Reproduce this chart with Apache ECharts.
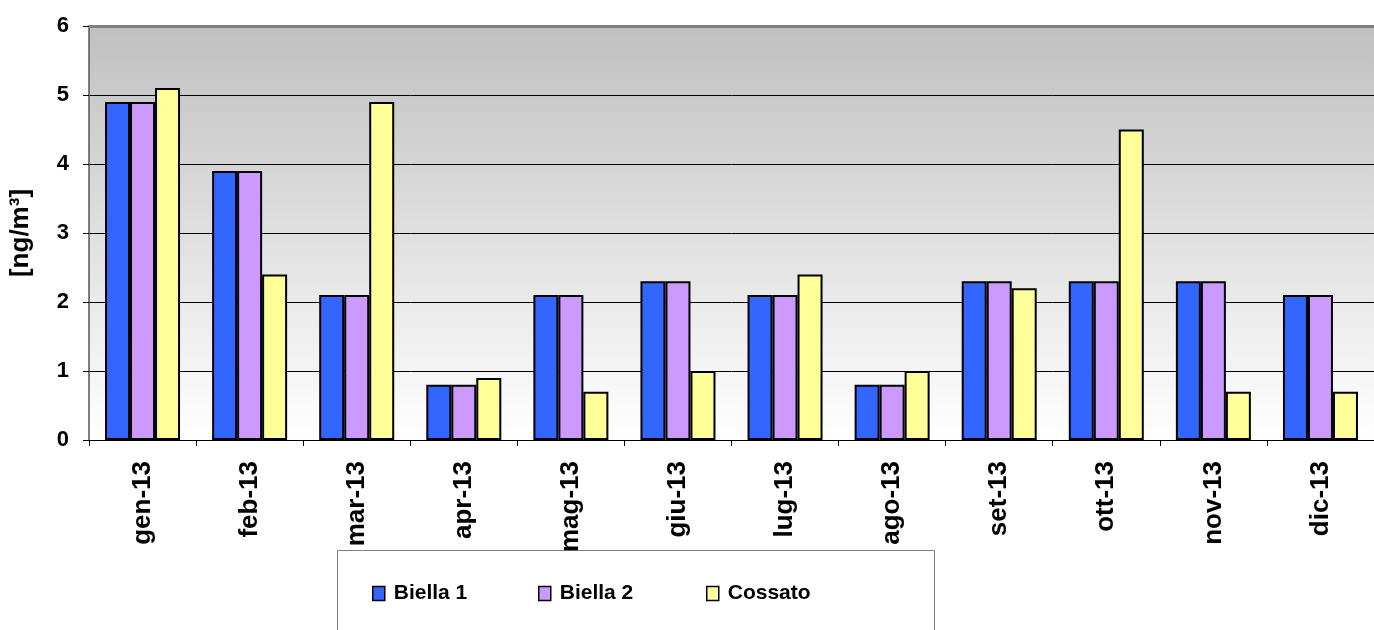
<!DOCTYPE html>
<html><head><meta charset="utf-8">
<script src="https://cdn.jsdelivr.net/npm/echarts@6/dist/echarts.min.js"></script>
<style>html,body{margin:0;padding:0;background:#fff}#c{width:1374px;height:630px}</style>
</head><body><div id="c"></div>
<script>
const categories = ['gen-13','feb-13','mar-13','apr-13','mag-13','giu-13','lug-13','ago-13','set-13','ott-13','nov-13','dic-13'];
const biella1 = [4.9, 3.9, 2.1, 0.8, 2.1, 2.3, 2.1, 0.8, 2.3, 2.3, 2.3, 2.1];
const biella2 = [4.9, 3.9, 2.1, 0.8, 2.1, 2.3, 2.1, 0.8, 2.3, 2.3, 2.3, 2.1];
const cossato = [5.1, 2.4, 4.9, 0.9, 0.7, 1.0, 2.4, 1.0, 2.2, 4.5, 0.7, 0.7];
const seriesNames = ['Biella 1', 'Biella 2', 'Cossato'];
const yTicks = [0, 1, 2, 3, 4, 5, 6];

const chart = echarts.init(document.getElementById('c'));
const font = 'Liberation Sans, Arial, sans-serif';
const bar = (name, data, color) => ({
  name, type: 'bar', data, barWidth: 25, barGap: '0%', barCategoryGap: '30%',
  itemStyle: { color, borderColor: '#000', borderWidth: 2 },
  emphasis: { disabled: true }
});
const legendLefts = [367, 533, 701];
chart.setOption({
  animation: false,
  textStyle: { fontFamily: font },
  graphic: [{
    type: 'rect', shape: { x: 337.5, y: 550.5, width: 597, height: 90 },
    style: { fill: '#fff', stroke: '#808080', lineWidth: 1 }, z: 0
  }],
  legend: seriesNames.map((n, i) => ({
    left: legendLefts[i], top: 578, itemWidth: 12, itemHeight: 14,
    icon: 'rect', z: 10,
    itemStyle: { borderColor: '#000', borderWidth: 1.5 },
    textStyle: { fontFamily: font, fontWeight: 'bold', fontSize: 21, color: '#000', padding: [0, 0, 0, 4] },
    data: [n]
  })),
  grid: {
    left: 87, top: 26, right: -3, height: 414, show: true, borderWidth: 0,
    backgroundColor: new echarts.graphic.LinearGradient(0, 0, 0, 1, [
      { offset: 0, color: '#c0c0c0' }, { offset: 1, color: '#ffffff' }
    ])
  },
  xAxis: [{
    type: 'category', data: categories,
    axisLine: { lineStyle: { color: '#000', width: 1 } },
    axisTick: { show: true, length: 6, lineStyle: { color: '#000' } },
    axisLabel: { rotate: 90, fontFamily: font, fontWeight: 'bold', fontSize: 26, color: '#000', margin: 21 }
  }, {
    type: 'category', data: categories, position: 'top',
    axisLine: { lineStyle: { color: '#808080', width: 3 } },
    axisTick: { show: false }, axisLabel: { show: false }
  }],
  yAxis: {
    type: 'value', min: 0, max: 6, interval: 1,
    name: '[ng/m³]', nameLocation: 'middle', nameGap: 55, nameRotate: 90,
    nameTextStyle: { fontFamily: font, fontWeight: 'bold', fontSize: 26, color: '#000' },
    axisLine: { show: true, lineStyle: { color: '#555', width: 1.5 } },
    axisTick: { show: true, length: 6, lineStyle: { color: '#000' } },
    splitLine: { lineStyle: { color: '#000', width: 1 } },
    axisLabel: { fontFamily: font, fontWeight: 'bold', fontSize: 22, color: '#000', margin: 20,
      formatter: v => yTicks.includes(v) ? String(v) : '' }
  },
  series: [bar('Biella 1', biella1, '#3366ff'), bar('Biella 2', biella2, '#cc99ff'), bar('Cossato', cossato, '#ffff99')]
});
</script></body></html>
